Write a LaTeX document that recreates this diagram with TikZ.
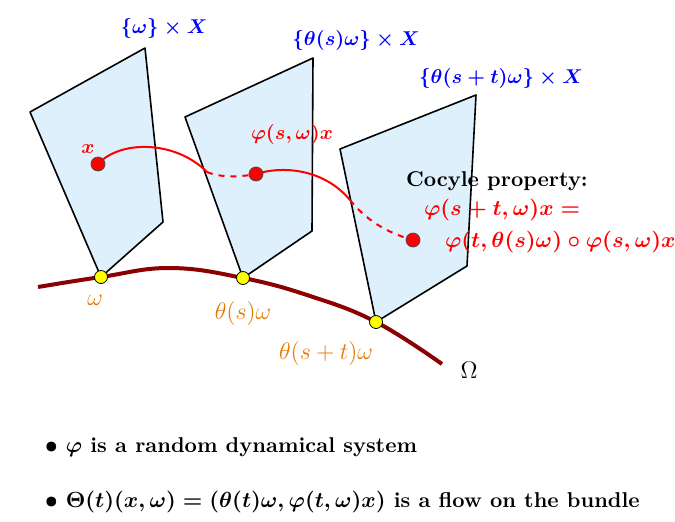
\documentclass[tikz,border=0pt]{standalone}
\usepackage{amsmath}
\usepackage{amssymb}
\usetikzlibrary{positioning}
\definecolor{FibFill}{HTML}{DDF0FC}
\definecolor{BaseInk}{HTML}{8B0000}
\definecolor{PtInk}{HTML}{E57A00}
\definecolor{OrbInk}{HTML}{FF0000}
\definecolor{SetInk}{HTML}{0000FF}
\definecolor{DotFill}{HTML}{FFFF00}

\begin{document}
\begin{tikzpicture}[x=0.5pt, y=-0.5pt, font=\bfseries\boldmath,
  fibre/.style={fill=FibFill, draw=black, line width=0.8pt, line join=round},
  basecurve/.style={draw=BaseInk, line width=2pt},
  orbit/.style={draw=OrbInk, line width=1pt},
  orbitdash/.style={orbit, dashed},
  basedot/.style={fill=DotFill, draw=black, line width=0.4pt},
  orbdot/.style={fill=OrbInk, draw=black!70, line width=0.4pt},
  setlabel/.style={text=SetInk},
  ptlabel/.style={text=PtInk, font=\fontsize{12.3}{14}\selectfont\unboldmath},
  orblabel/.style={text=OrbInk},
  eqlabel/.style={text=OrbInk, anchor=west, font=\fontsize{10.8}{13}\selectfont\bfseries\boldmath},
  notelabel/.style={font=\fontsize{10.7}{13}\selectfont\bfseries\boldmath}]
\useasboundingbox (0,0) rectangle (675,521);

\coordinate (w1) at (101,277);
\coordinate (w2) at (243,278);
\coordinate (w3) at (376,322);
\coordinate (p1) at (98,164);
\coordinate (p2) at (256,174);
\coordinate (p3) at (413,240);

\filldraw[fibre] (w1) -- (30,112) -- (145,48) -- (163,222) -- cycle;
\filldraw[fibre] (w2) -- (185,117) -- (313,58) -- (312,231) -- cycle;
\filldraw[fibre] (w3) -- (340,149) -- (476,95) -- (467,266) -- cycle;

\draw[basecurve] plot[smooth, tension=0.7] coordinates
  {(38,287) (w1) (170,268) (w2) (310,296) (w3) (442,364)};

\draw[orbit] (p1) .. controls (120,140) and (175,140) .. (207,172);
\draw[orbitdash] (207,172) .. controls (222,178) and (240,177) .. (p2);
\draw[orbit] (p2) .. controls (285,165) and (325,170) .. (350,200);
\draw[orbitdash] (350,200) .. controls (370,225) and (395,235) .. (p3);

\foreach \p in {w1,w2,w3}
  \filldraw[basedot] (\p) circle (6.5);
\foreach \p in {p1,p2,p3}
  \filldraw[orbdot] (\p) circle (7);

\node[setlabel] (f1) at (164,28) {$\{\omega\}\times X$};
\node[setlabel] (f2) at (356,40) {$\{\theta(s)\omega\}\times X$};
\node[setlabel] (f3) at (501,78) {$\{\theta(s+t)\omega\}\times X$};

\node[orblabel] (lx) at (88,149) {$x$};
\node[orblabel] (ly) at (292,134) {$\varphi(s,\omega)x$};

\node[ptlabel] (l1) at (95,300) {$\omega$};
\node[ptlabel] (l2) at (243,313) {$\theta(s)\omega$};
\node[ptlabel] (l3) at (326,353) {$\theta(s+t)\omega$};
\node[ptlabel, text=black] (lom) at (469,370) {$\Omega$};

\node[notelabel] (coc) at (497,181) {Cocyle property:};
\node[eqlabel] (eq1) at (417,210) {$\varphi(s+t,\omega)x=$};
\node[eqlabel] (eq2) at (438,242) {$\varphi(t,\theta(s)\omega)\circ\varphi(s,\omega)x$};

\node[notelabel, anchor=west] (b1) at (38,447) {$\bullet$ $\varphi$ is a random dynamical system};
\node[notelabel, anchor=west] (b2) at (38,502) {$\bullet$ $\Theta(t)(x,\omega)=(\theta(t)\omega,\varphi(t,\omega)x)$ is a flow on the bundle};
\end{tikzpicture}
\end{document}
